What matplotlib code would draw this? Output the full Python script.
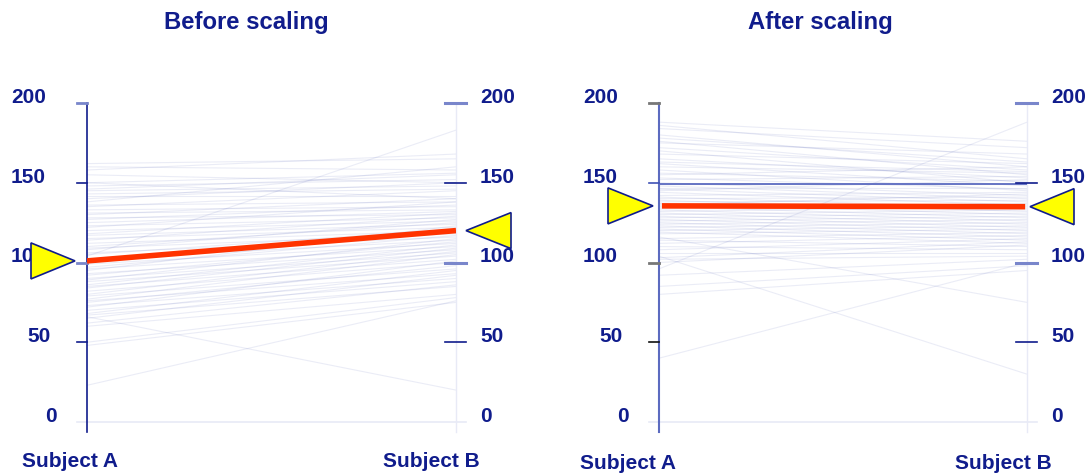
import matplotlib
matplotlib.use("Agg")
import matplotlib.pyplot as plt
from matplotlib.patches import Polygon

# ---------------- data ----------------
titles = ["Before scaling", "After scaling"]
subjects = ["Subject A", "Subject B"]
tick_values = [0, 50, 100, 150, 200]
tick_labels = ["0", "50", "100", "150", "200"]

before_A = [162, 160, 158, 155, 150, 150, 148, 146, 145, 143, 142, 140, 138, 136, 135, 133, 131, 130, 128, 127,
            125, 123, 122, 120, 118, 117, 115, 114, 112, 110, 109, 108, 106, 105, 104, 102, 100, 99, 97, 96,
            95, 93, 92, 90, 89, 88, 86, 85, 84, 82, 80, 79, 77, 76, 75, 73, 72, 70, 68, 67,
            66, 65, 62, 60, 50, 48, 23]
before_B = [165, 158, 168, 150, 140, 156, 152, 155, 148, 146, 142, 150, 160, 138, 145, 135, 133, 140, 130, 136,
            132, 128, 138, 126, 131, 124, 122, 129, 120, 125, 118, 127, 116, 121, 183, 114, 119, 112, 117, 110,
            123, 108, 113, 106, 115, 104, 111, 102, 109, 100, 107, 96, 105, 93, 98, 90, 101, 88, 95, 85,
            20, 92, 86, 80, 78, 75, 76]
after_A = [188, 186, 184, 180, 178, 176, 175, 172, 170, 168, 165, 163, 162, 160, 158, 156, 155, 153, 152, 150,
           149, 148, 147, 146, 145, 144, 142, 141, 140, 139, 138, 137, 136, 135, 134, 133, 132, 131, 130, 129,
           128, 127, 126, 125, 124, 123, 122, 121, 120, 119, 118, 116, 115, 114, 112, 110, 108, 106, 104, 103,
           102, 100, 96, 92, 85, 80, 40]
after_B = [176, 165, 172, 160, 163, 155, 168, 158, 150, 162, 153, 157, 148, 156, 145, 151, 160, 146, 154, 142,
           149, 140, 147, 138, 152, 136, 144, 134, 141, 132, 139, 130, 143, 128, 137, 126, 135, 124, 133, 122,
           131, 120, 129, 118, 127, 116, 125, 114, 123, 112, 121, 75, 119, 110, 117, 108, 115, 106, 30, 113,
           104, 111, 188, 102, 98, 95, 100]
mean_before = [101, 120]
mean_after = [135.5, 135]
ref_after = [149, 149]

# ---------------- style ----------------
NAVY = "#101c8c"
FONT = "Liberation Sans"
FS = 15
W, H = 1092, 473
fig = plt.figure(figsize=(W / 100, H / 100), dpi=100)

y0_px, y200_px = 422, 103
panels = [
    dict(x0=87, x1=456, A=before_A, B=before_B, mean=mean_before, ref=None,
         axcol=NAVY, axlw=1.2, red_x=(0.0, 1.0),
         triA=(-12, -56), triB=(10, 55), tick_cols_A=["#e8eaf6", NAVY, "#7986cb", NAVY, "#7986cb"],
         lblA=(-17, -24.5), lblB=(-25, -24.5)),
    dict(x0=659, x1=1027, A=after_A, B=after_B, mean=mean_after, ref=ref_after,
         axcol="#5c6bc0", axlw=1.5, red_x=(0.008, 0.995),
         triA=(-6, -51), triB=(3, 47), tick_cols_A=["#e8eaf6", "#111111", "#777777", "#3f51b5", "#777777"],
         lblA=(-31, -26), lblB=(-24, -26)),
]

for i, p in enumerate(panels):
    wpx = p["x1"] - p["x0"]
    ax = fig.add_axes([p["x0"] / W, (H - y0_px) / H, wpx / W, (y0_px - y200_px) / H])
    ax.set_xlim(0, 1)
    ax.set_ylim(0, 200)
    ax.axis("off")
    px = 1.0 / wpx
    py = 200.0 / (y0_px - y200_px)

    # student lines
    for a, b in zip(p["A"], p["B"]):
        ax.plot([0, 1], [a, b], color="#3949ab", alpha=0.10, lw=0.8, solid_capstyle="butt")

    # baseline at 0
    ax.plot([-10 * px, 1 + 10 * px], [0, 0], color="#e8eaf6", lw=1.2, clip_on=False)

    # B axis (faint)
    ax.plot([1, 1], [200, -6.5], color="#e8eaf6", lw=1.0, clip_on=False)
    # A axis
    ax.plot([0, 0], [200, -6.5], color=p["axcol"], lw=p["axlw"], clip_on=False, zorder=4)

    # reference line
    if p["ref"] is not None:
        ax.plot([0, 1], p["ref"], color="#5c6bc0", lw=1.3, zorder=4)

    # ticks
    b_cols = ["#e8eaf6", NAVY, "#7986cb", NAVY, "#7986cb"]
    for k, v in enumerate(tick_values):
        if v == 0:
            continue
        heavy = v in (100, 200)
        ax.plot([-10 * px, 0], [v, v], color=p["tick_cols_A"][k], lw=2.0 if heavy else 1.2,
                clip_on=False, zorder=5)
        ax.plot([1 - 11 * px, 1 + 10 * px], [v, v], color=b_cols[k], lw=2.2 if heavy else 1.2,
                clip_on=False, zorder=5)

    # tick labels
    for v, lab in zip(tick_values, tick_labels):
        off = {3: -76, 2: -60, 1: -42}[len(lab)]
        ax.text(off * px, v + 5.5 * py, lab, ha="left", va="center", fontsize=FS,
                fontweight="bold", color=NAVY, family=FONT, clip_on=False, zorder=2)
        ax.text(1 + 24 * px, v + 5.5 * py, lab, ha="left", va="center", fontsize=FS,
                fontweight="bold", color=NAVY, family=FONT, clip_on=False)

    # mean line
    ax.plot(p["red_x"], p["mean"], color="#ff3300", lw=4, solid_capstyle="butt", zorder=6)

    # triangles
    mA, mB = p["mean"]
    ta, tb = p["triA"]
    triA = Polygon([[ta * px, mA], [tb * px, mA + 18 * py], [tb * px, mA - 18 * py]],
                   closed=True, facecolor="#ffff00", edgecolor=NAVY, lw=1.2, clip_on=False, zorder=7)
    ta, tb = p["triB"]
    triB = Polygon([[1 + ta * px, mB], [1 + tb * px, mB + 18 * py], [1 + tb * px, mB - 18 * py]],
                   closed=True, facecolor="#ffff00", edgecolor=NAVY, lw=1.2, clip_on=False, zorder=7)
    ax.add_patch(triA)
    ax.add_patch(triB)

    # axis labels
    ax.text(p["lblA"][0] * px, p["lblA"][1], subjects[0], ha="center", va="center", fontsize=FS,
            fontweight="bold", color=NAVY, family=FONT, clip_on=False)
    ax.text(1 + p["lblB"][0] * px, p["lblB"][1], subjects[1], ha="center", va="center", fontsize=FS,
            fontweight="bold", color=NAVY, family=FONT, clip_on=False)

# titles
fig.text(246 / W, 1 - 22 / H, titles[0], ha="center", va="center", fontsize=17.2,
         fontweight="bold", color=NAVY, family=FONT)
fig.text(820 / W, 1 - 22 / H, titles[1], ha="center", va="center", fontsize=17.2,
         fontweight="bold", color=NAVY, family=FONT)

fig.savefig("out.png", dpi=100)
